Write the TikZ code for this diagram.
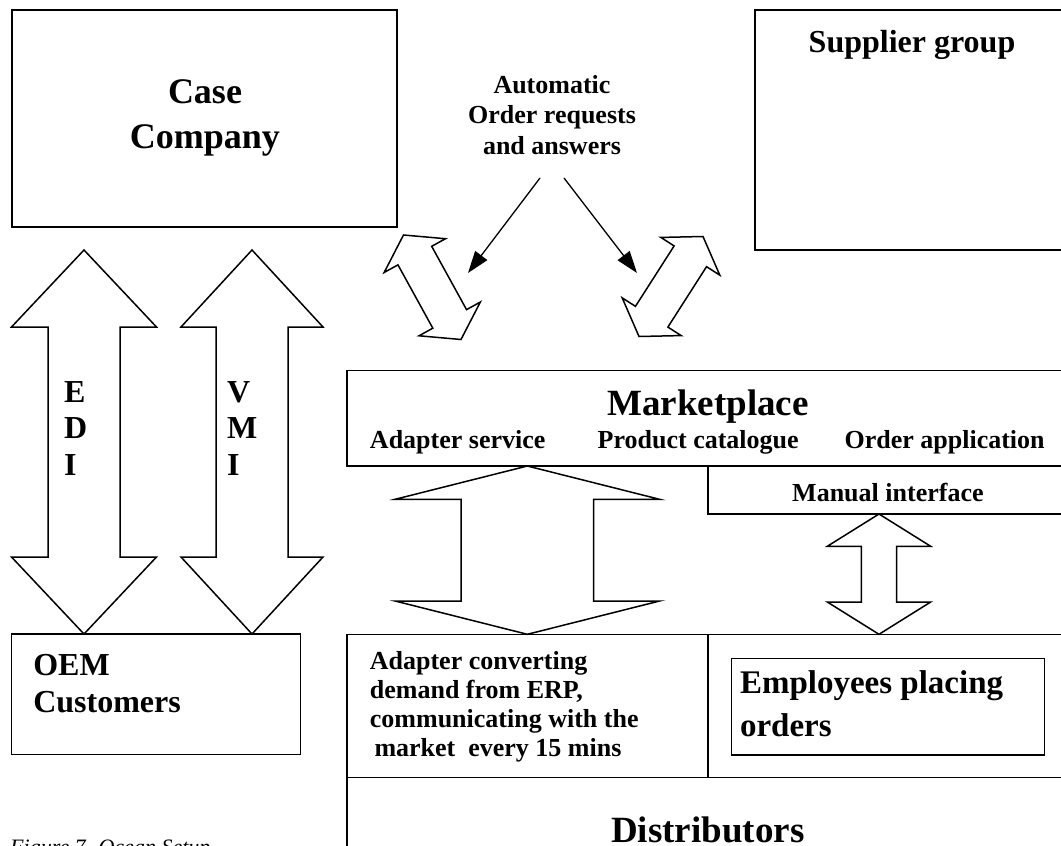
\documentclass[tikz,border=0pt]{standalone}
\usepackage{fontspec}
\setmainfont{Liberation Serif}
\usetikzlibrary{calc,arrows.meta}
\newcommand\bfsz[2]{\fontsize{#1}{#2}\selectfont\bfseries}

\tikzset{
  frame/.style={draw=black, line width=1.5pt},
  box/.style={frame, rectangle, anchor=north west, inner sep=0pt, outer sep=0pt},
  area/.style={rectangle, anchor=north west, inner sep=0pt, outer sep=0pt},
  % multi-line labels: the base anchor sits on the last line
  lbl/.style={inner sep=0pt, outer sep=0pt, anchor=base, align=center},
  lbll/.style={inner sep=0pt, outer sep=0pt, anchor=base west, align=left},
  pointer/.style={draw=black, line width=1.3pt, -{Triangle[length=22pt,width=15pt]}},
  % hollow two-headed arrow: half shaft width, half head width, head length
  block arrow/.style n args={3}{frame, fill=white, line join=miter,
    to path={
      ($(\tikztostart)!#3!(\tikztotarget)$) coordinate (ba-a)
      ($(\tikztotarget)!#3!(\tikztostart)$) coordinate (ba-b)
      (\tikztostart)
      -- ($(ba-a)!#2!90:(\tikztotarget)$)
      -- ($(ba-a)!#1!90:(\tikztotarget)$)
      -- ($(ba-b)!#1!-90:(\tikztostart)$)
      -- ($(ba-b)!#2!-90:(\tikztostart)$)
      -- (\tikztotarget)
      -- ($(ba-b)!#2!90:(\tikztostart)$)
      -- ($(ba-b)!#1!90:(\tikztostart)$)
      -- ($(ba-a)!#1!-90:(\tikztotarget)$)
      -- ($(ba-a)!#2!-90:(\tikztotarget)$)
      -- cycle}},
}

\begin{document}
\begin{tikzpicture}[x=1pt,y=-1pt]
\useasboundingbox (0,0) rectangle (1061,846);
\clip (0,0) rectangle (1061,846);

% --- top row ---
\node[box, minimum width=385pt, minimum height=217pt] (case) at (12,10) {};
\node[lbl, font=\bfsz{36}{45}] (casetext) at (205,148) {Case\\Company};

\node[area, minimum width=310pt, minimum height=240pt] (supplier) at (755,10) {};
\draw[frame] (supplier.north east) -| (supplier.south west) -- (supplier.south east);
\node[lbl, font=\bfsz{32}{38}] (suppliertext) at (912,52) {Supplier group};

\node[lbl, font=\bfsz{26}{30.5}] (auto) at (552,154) {Automatic\\Order requests\\and answers};

% --- OEM customers and the EDI / VMI links ---
\node[box, minimum width=289pt, minimum height=120.3pt] (oem) at (11.7,634) {};
\node[lbll, font=\bfsz{32}{37.7}] (oemtext) at (33.3,712.7) {OEM\\Customers};

\coordinate (edi) at (84,250);
\coordinate (vmi) at (252,250);
\draw[block arrow={36pt}{72.5pt}{77pt}] (edi) to (edi |- oem.north);
\draw[block arrow={36pt}{71pt}{77pt}] (vmi) to (vmi |- oem.north);
\node[lbll, font=\bfsz{32}{36.5}] (editext) at (64,475) {E\\D\\I};
\node[lbll, font=\bfsz{32}{36.5}] (vmitext) at (227,475) {V\\M\\I};

% --- marketplace ---
\node[area, minimum width=720pt, minimum height=95.3pt] (market) at (347,370.7) {};
\draw[frame] (market.north east) -| (market.south west) -- (market.south east);
\node[lbl, font=\bfsz{37}{40}] (markettext) at (708,415) {Marketplace};
\node[lbl, font=\bfsz{26}{30}] (adsvc) at (457.7,448.3) {Adapter service};
\node[lbl, font=\bfsz{26}{30}] (prodcat) at (698.2,448.3) {Product catalogue};
\node[lbl, font=\bfsz{26}{30}] (orderapp) at (944.6,448.3) {Order application};

\node[area, minimum width=360pt, minimum height=48pt] (manual) at (707.8,466) {};
\draw[frame] (manual.north west) |- (manual.south east);
\node[lbl, font=\bfsz{26}{30}] (manualtext) at (887.9,501.7) {Manual interface};

% --- distributors ---
\node[box, minimum width=360.9pt, minimum height=143.4pt] (adaptcell) at (346.9,634.3) {};
\node[area, minimum width=360pt, minimum height=143.4pt] (empcell) at (707.8,634.3) {};
\draw[frame] (empcell.north west) -- (empcell.north east)
             (empcell.south west) -- (empcell.south east);
\node[area, minimum width=720pt, minimum height=80pt] (distcell) at (346.9,777.7) {};
\draw[frame] (distcell.north west) -- (distcell.south west);

\node[lbll, font=\bfsz{26}{29}] (adapttext) at (369.9,756.3)
  {Adapter converting\\demand from ERP,\\communicating with the\\\hspace*{4.6pt}market\ \ every 15 mins};
\node[box, minimum width=312.7pt, minimum height=96.7pt] (emp) at (731.7,658.3) {};
\node[lbll, font=\bfsz{33}{43.4}] (emptext) at (740,736.7) {Employees placing\\orders};
\node[lbl, font=\bfsz{37}{40}] (disttext) at (707.8,842) {Distributors};

% --- links between marketplace and distributors ---
\draw[block arrow={66.25pt}{132.25pt}{33.3pt}] (adaptcell.north |- market.south) to (adaptcell.north);
\coordinate (mi) at (879,0);
\draw[block arrow={17.7pt}{51.7pt}{32.3pt}] (mi |- manual.south) to (mi |- empcell.north);

% --- automatic order links ---
\coordinate (la) at (403.5,235);
\coordinate (lb) at (461,339.5);
\coordinate (ra) at (703,236.5);
\coordinate (rb) at (639,336.5);
\draw[block arrow={19.25pt}{35pt}{23.5pt}] (la) to (lb);
\draw[block arrow={19.25pt}{35pt}{23.5pt}] (ra) to (rb);

\coordinate (p1) at (540,178);
\coordinate (p1t) at (468,273);
\coordinate (p2) at (564,178);
\coordinate (p2t) at (637,273);
\draw[pointer] (p1) -- (p1t);
\draw[pointer] (p2) -- (p2t);

% --- caption, running off the lower edge ---
\node[inner sep=0pt, anchor=base west, font=\fontsize{22}{26}\selectfont\itshape] (caption) at (10,854) {Figure 7. Ocean Setup};
\end{tikzpicture}
\end{document}
